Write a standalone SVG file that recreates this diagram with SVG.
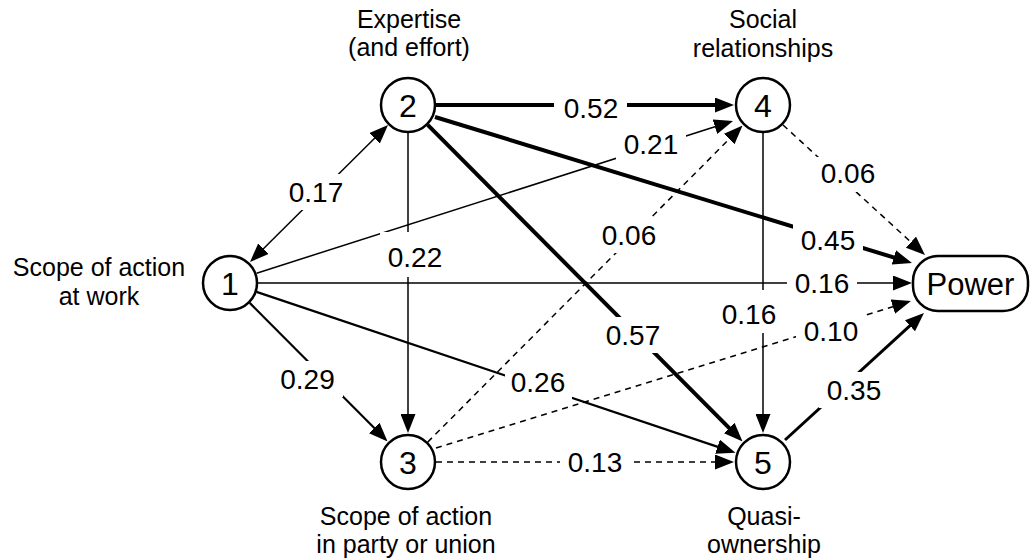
<svg xmlns="http://www.w3.org/2000/svg" width="1033" height="560" viewBox="0 0 1033 560">
<style>
.node{fill:#fff;stroke:#000;stroke-width:2.5}
.num{font-family:"Liberation Sans",Arial,sans-serif;font-size:32px;text-anchor:middle;fill:#000}
.lab{font-family:"Liberation Sans",Arial,sans-serif;font-size:25px;text-anchor:middle;fill:#000}
.el{font-family:"Liberation Sans",Arial,sans-serif;font-size:28px;text-anchor:middle;fill:#000}
.bg{fill:#fff;stroke:none}
.e{fill:none;stroke:#000;stroke-width:1.5;marker-end:url(#ah)}
.m{stroke-width:2.2}
.t{stroke-width:4}
.t3{stroke-width:3}
.d{stroke-dasharray:6 5}
</style>
<defs>
<marker id="ah" markerUnits="userSpaceOnUse" markerWidth="19" markerHeight="15" refX="9" refY="7.5" orient="auto-start-reverse">
<path d="M0,0 L19,7.5 L0,15 Z" fill="#000"/>
</marker>
</defs>
<rect width="1033" height="560" fill="#fff"/>
<g id="connectors">
<line class="e" x1="257.1" y1="255" x2="380.9" y2="132" marker-start="url(#ah)"/>
<line class="e" x1="256.6" y1="273.2" x2="723.5" y2="124"/>
<line class="e" x1="258" y1="283" x2="902" y2="283"/>
<line class="e m" x1="249.7" y1="302.9" x2="380.5" y2="434.3"/>
<line class="e m" x1="256.5" y1="291.9" x2="726" y2="449.6"/>
<line class="e" x1="408" y1="133" x2="408" y2="423"/>
<line class="e t" x1="436" y1="105" x2="724" y2="105"/>
<line class="e t" x1="435" y1="117" x2="902.4" y2="260.1"/>
<line class="e t" x1="427.7" y1="124.9" x2="735.5" y2="434.3"/>
<line class="e d" x1="427.7" y1="442.1" x2="735.5" y2="132.7"/>
<line class="e d" x1="436" y1="448" x2="901.4" y2="304"/>
<line class="e d" x1="436" y1="462" x2="724" y2="462"/>
<line class="e d" x1="783" y1="125" x2="917.6" y2="248.2"/>
<line class="e" x1="763" y1="133" x2="763" y2="423"/>
<line class="e t3" x1="785" y1="440" x2="916.6" y2="319.7"/>
</g>
<g id="edge-labels">
<rect class="bg" x="281" y="174" width="70" height="36"/><text class="el" x="316" y="202">0.17</text>
<rect class="bg" x="380" y="232" width="70" height="45"/><text class="el" x="415" y="267">0.22</text>
<rect class="bg" x="616" y="126" width="70" height="36"/><text class="el" x="651" y="154">0.21</text>
<rect class="bg" x="813" y="157" width="70" height="35"/><text class="el" x="848" y="183">0.06</text>
<rect class="bg" x="793" y="222" width="70" height="36"/><text class="el" x="828" y="250">0.45</text>
<rect class="bg" x="787" y="265" width="70" height="36"/><text class="el" x="822" y="293">0.16</text>
<rect class="bg" x="594" y="217" width="70" height="36"/><text class="el" x="629" y="245">0.06</text>
<rect class="bg" x="714" y="290" width="70" height="43"/><text class="el" x="749" y="324">0.16</text>
<rect class="bg" x="796" y="313" width="70" height="36"/><text class="el" x="831" y="341">0.10</text>
<rect class="bg" x="598" y="317" width="70" height="36"/><text class="el" x="633" y="345">0.57</text>
<rect class="bg" x="819" y="372" width="70" height="36"/><text class="el" x="854" y="400">0.35</text>
<rect class="bg" x="560" y="444" width="70" height="36"/><text class="el" x="595" y="472">0.13</text>
<rect class="bg" x="272" y="361" width="71" height="36"/><text class="el" x="307.5" y="389">0.29</text>
<rect class="bg" x="505" y="366" width="67" height="34"/><text class="el" x="538" y="392">0.26</text>
<rect class="bg" x="554" y="90" width="73" height="36"/><text class="el" x="591" y="118">0.52</text>
</g>
<g id="node1">
<circle class="node" cx="230" cy="283" r="27"/>
<text class="num" x="230" y="294.5">1</text>
<text class="lab" x="99" y="276">Scope of action</text>
<text class="lab" x="99" y="305">at work</text>
</g>
<g id="node2">
<circle class="node" cx="408" cy="105" r="27"/>
<text class="num" x="408" y="116.5">2</text>
<text class="lab" x="409" y="28">Expertise</text>
<text class="lab" x="409" y="56">(and effort)</text>
</g>
<g id="node3">
<circle class="node" cx="408" cy="462" r="27"/>
<text class="num" x="408" y="473.5">3</text>
<text class="lab" x="406" y="525">Scope of action</text>
<text class="lab" x="406" y="553">in party or union</text>
</g>
<g id="node4">
<circle class="node" cx="763" cy="105" r="27"/>
<text class="num" x="763" y="116.5">4</text>
<text class="lab" x="763" y="28">Social</text>
<text class="lab" x="763" y="57">relationships</text>
</g>
<g id="node5">
<circle class="node" cx="763" cy="462" r="27"/>
<text class="num" x="763" y="473.5">5</text>
<text class="lab" x="764" y="525">Quasi-</text>
<text class="lab" x="764" y="553">ownership</text>
</g>
<g id="power">
<rect class="node" x="913" y="256" width="115" height="55" rx="25"/>
<text class="num" x="970.5" y="294.5" style="font-size:31px">Power</text>
</g>
</svg>
